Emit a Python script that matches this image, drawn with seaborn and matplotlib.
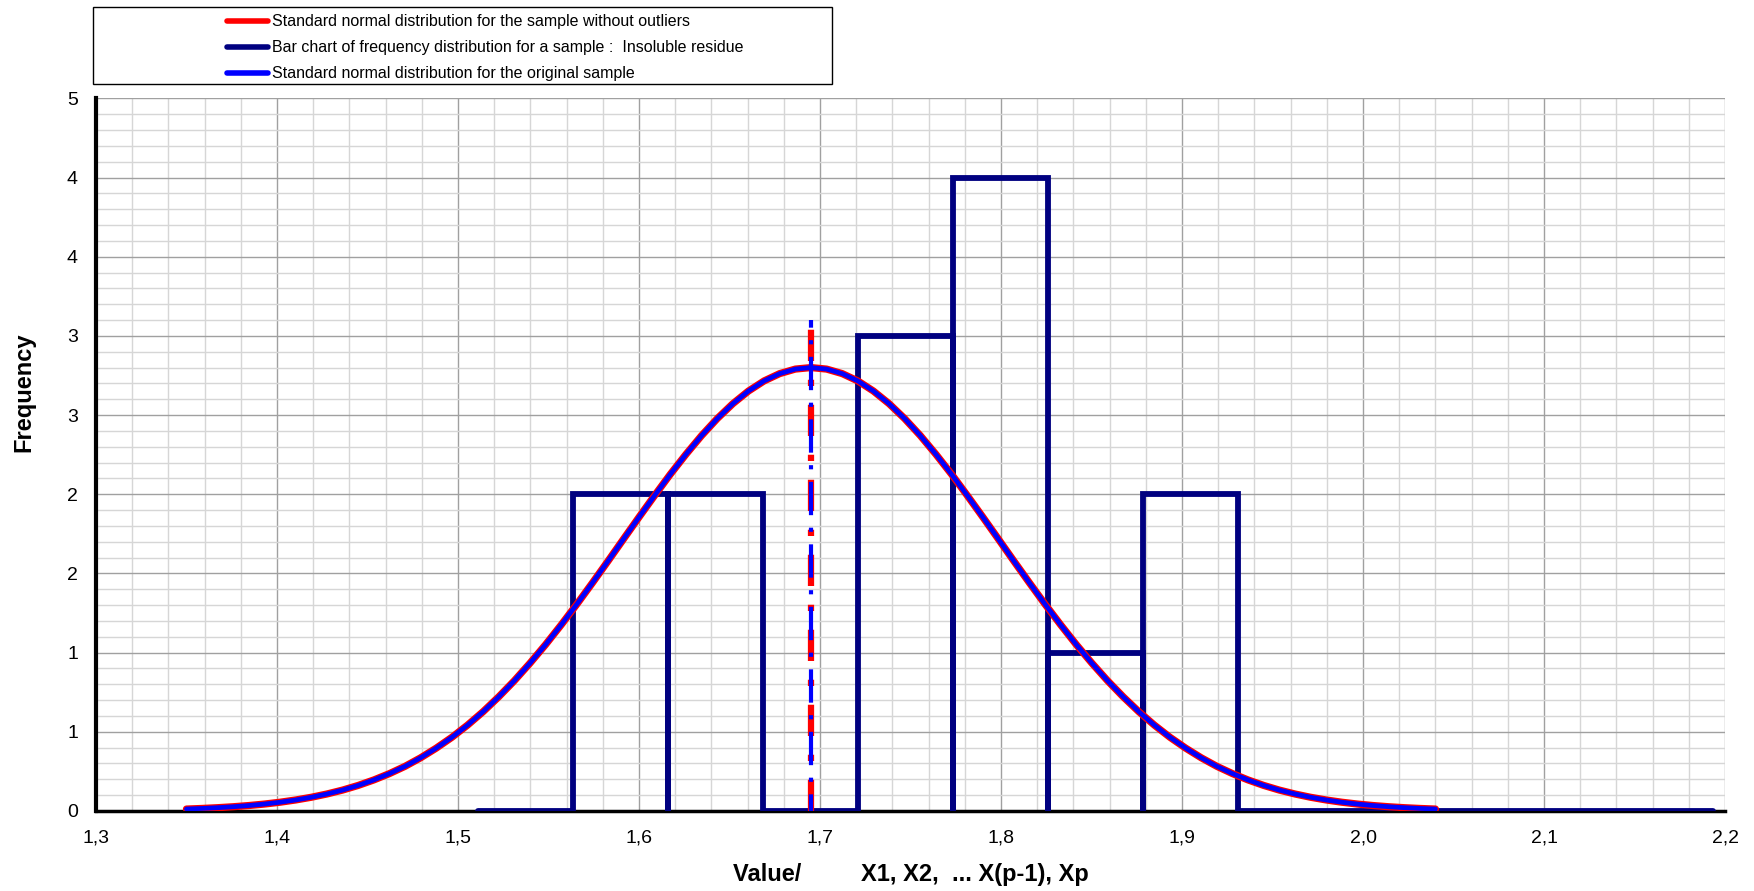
import numpy as np
import pandas as pd
import matplotlib
matplotlib.use("Agg")
import matplotlib.pyplot as plt
from matplotlib.patches import Rectangle
from matplotlib.lines import Line2D
import seaborn as sns

# ---------------- data ----------------
bin_edges = [1.5108, 1.5633, 1.6158, 1.6683, 1.7208, 1.7733, 1.8258,
             1.8783, 1.9308, 1.9833, 2.0358, 2.0883, 2.1408, 2.1933]
frequencies = [0, 2, 2, 0, 3, 4, 1, 2, 0, 0, 0, 0, 0]

curve_x = [1.35 + 0.008625 * i for i in range(81)]
curve_no_outliers = [
    0.0123, 0.0161, 0.0209, 0.0269, 0.0345, 0.0439, 0.0554, 0.0696, 0.0867, 0.1074,
    0.132, 0.1614, 0.196, 0.2360, 0.282, 0.3359, 0.397, 0.4652, 0.542, 0.6271,
    0.721, 0.8226, 0.933, 1.0503, 1.175, 1.3050, 1.440, 1.5780, 1.718, 1.8572,
    1.994, 2.1273, 2.253, 2.3711, 2.478, 2.5723, 2.652, 2.7158, 2.762, 2.7905,
    2.800,
    2.7905, 2.762, 2.7158, 2.652, 2.5723, 2.478, 2.3711, 2.253, 2.1273, 1.994,
    1.8572, 1.718, 1.5780, 1.440, 1.3050, 1.175, 1.0503, 0.933, 0.8226, 0.721,
    0.6271, 0.542, 0.4652, 0.397, 0.3359, 0.282, 0.2360, 0.196, 0.1614, 0.132,
    0.1074, 0.0867, 0.0696, 0.0554, 0.0439, 0.0345, 0.0269, 0.0209, 0.0161, 0.0123]
curve_original = [
    0.0123, 0.0161, 0.0209, 0.0269, 0.0345, 0.0439, 0.0554, 0.0696, 0.0867, 0.1074,
    0.132, 0.1614, 0.196, 0.2360, 0.282, 0.3359, 0.397, 0.4652, 0.542, 0.6271,
    0.721, 0.8226, 0.933, 1.0503, 1.175, 1.3050, 1.440, 1.5780, 1.718, 1.8572,
    1.994, 2.1273, 2.253, 2.3711, 2.478, 2.5723, 2.652, 2.7158, 2.762, 2.7905,
    2.800,
    2.7905, 2.762, 2.7158, 2.652, 2.5723, 2.478, 2.3711, 2.253, 2.1273, 1.994,
    1.8572, 1.718, 1.5780, 1.440, 1.3050, 1.175, 1.0503, 0.933, 0.8226, 0.721,
    0.6271, 0.542, 0.4652, 0.397, 0.3359, 0.282, 0.2360, 0.196, 0.1614, 0.132,
    0.1074, 0.0867, 0.0696, 0.0554, 0.0439, 0.0345, 0.0269, 0.0209, 0.0161, 0.0123]

mean_no_outliers_x = [1.695, 1.695]
mean_original_x = [1.695, 1.695]
mean_line_y = [0.0, 3.1]

xtick_values = [1.3, 1.4, 1.5, 1.6, 1.7, 1.8, 1.9, 2.0, 2.1, 2.2]
xtick_labels = ["1,3", "1,4", "1,5", "1,6", "1,7", "1,8", "1,9", "2,0", "2,1", "2,2"]
ytick_values = [0, 0.5, 1.0, 1.5, 2.0, 2.5, 3.0, 3.5, 4.0, 4.5]
ytick_labels = ["0", "1", "1", "2", "2", "3", "3", "4", "4", "5"]

legend_labels = ["Standard normal distribution for the sample without outliers",
                 "Bar chart of frequency distribution for a sample :  Insoluble residue",
                 "Standard normal distribution for the original sample"]
x_label = "Value/         X1, X2,  ... X(p-1), Xp"
y_label = "Frequency"

# -------------- styling ----------------
sns.set_theme(style="white")
plt.rcParams["font.family"] = ["Liberation Sans", "DejaVu Sans"]
plt.rcParams["text.color"] = "black"
plt.rcParams["axes.labelcolor"] = "black"

RED = "#ff0000"
NAVY = "#000080"
BLUE = "#0000ff"

fig = plt.figure(figsize=(17.54, 8.91), dpi=100)
ax = fig.add_axes([0.0547, 0.0898, 0.9288, 0.7998])

# histogram outline path built from bins
hx, hy = [bin_edges[0]], [0.0]
for i, h in enumerate(frequencies):
    l, r = bin_edges[i], bin_edges[i + 1]
    if h > 0:
        hx += [l, l, r, r]
        hy += [0.0, h, h, 0.0]
    else:
        hx += [r]
        hy += [0.0]
hist_df = pd.DataFrame({"x": hx, "y": hy})

curve_df = pd.DataFrame({"x": curve_x, "red": curve_no_outliers, "blue": curve_original})

sns.lineplot(data=hist_df, x="x", y="y", sort=False, estimator=None, ax=ax,
             color=NAVY, lw=4.2, solid_joinstyle="miter", zorder=3)
sns.lineplot(data=curve_df, x="x", y="red", sort=False, estimator=None, ax=ax,
             color=RED, lw=5.2, zorder=4)
sns.lineplot(data=curve_df, x="x", y="blue", sort=False, estimator=None, ax=ax,
             color=BLUE, lw=3.4, zorder=5)

ax.plot(mean_no_outliers_x, mean_line_y, color=RED, lw=4.5,
        linestyle=(0, (5, 3, 1, 3)), zorder=6)
ax.plot(mean_original_x, mean_line_y, color=BLUE, lw=3.0,
        linestyle=(4, (8, 3, 1, 3)), zorder=7)

ax.set_xlim(1.3, 2.2)
ax.set_ylim(0, 4.5)
ax.set_xticks(xtick_values)
ax.set_xticklabels(xtick_labels, fontsize=14)
ax.set_yticks(ytick_values)
ax.set_yticklabels(ytick_labels, fontsize=14)
ax.set_xticks(np.arange(1.3, 2.2001, 0.02), minor=True)
ax.set_yticks(np.arange(0, 4.5001, 0.1), minor=True)

ax.grid(which="minor", color="#d6d6d6", lw=1.0, zorder=0)
ax.grid(which="major", color="#a0a0a0", lw=1.0, zorder=1)
ax.set_axisbelow(True)

for s in ["top", "right"]:
    ax.spines[s].set_visible(False)
ax.spines["left"].set_color("black")
ax.spines["left"].set_linewidth(3)
ax.spines["bottom"].set_color("black")
ax.spines["bottom"].set_linewidth(2.5)
ax.spines["left"].set_zorder(8)

ax.tick_params(axis="both", which="major", direction="out", length=5, width=2.5,
               color="black", labelcolor="black")
ax.tick_params(axis="both", which="minor", length=0)
ax.tick_params(axis="y", pad=8)
ax.tick_params(axis="x", pad=8)

ax.set_xlabel(x_label, fontsize=17, fontweight="bold", labelpad=12, color="black")
ax.set_ylabel(y_label, fontsize=17, fontweight="bold", color="black")
ax.yaxis.set_label_coords(-0.0374, 0.588)

# legend box (outside axes, top-left)
fig.patches.append(Rectangle((0.053, 0.9057), 0.4213, 0.0864, transform=fig.transFigure,
                             fill=False, edgecolor="black", lw=1.0, zorder=10))
handles = [Line2D([0], [0], color=RED, lw=4, solid_capstyle="round"),
           Line2D([0], [0], color=NAVY, lw=4, solid_capstyle="round"),
           Line2D([0], [0], color=BLUE, lw=4, solid_capstyle="round")]
fig.legend(handles, legend_labels, loc="upper left", bbox_to_anchor=(0.1294, 0.984),
           frameon=False, fontsize=11.5, handlelength=2.57, handletextpad=0.25,
           labelspacing=0.69, borderpad=0, borderaxespad=0, labelcolor="black")

fig.savefig("out.png", dpi=100)
